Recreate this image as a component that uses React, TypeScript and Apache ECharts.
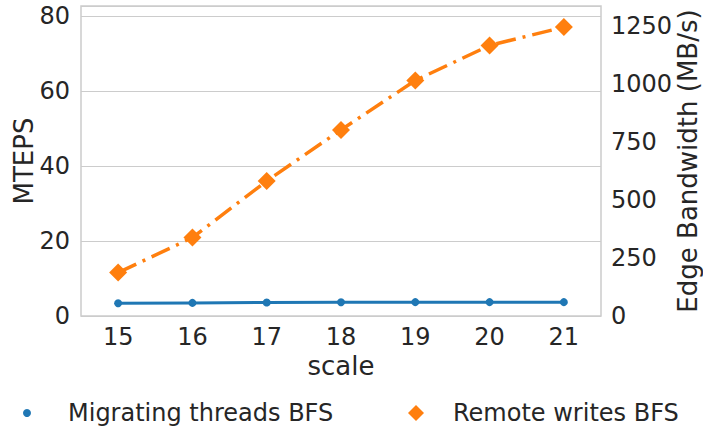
import React, { useEffect, useRef } from "react";
import * as echarts from "echarts";

const scales = ["15", "16", "17", "18", "19", "20", "21"];
const migratingMteps = [3.4, 3.5, 3.6, 3.65, 3.7, 3.7, 3.7];
const remoteBandwidth = [187, 338, 582, 802, 1015, 1166, 1245];
const FONT = "DejaVu Sans";
const TXT = "#262626";

export default function App() {
  const ref = useRef<HTMLDivElement>(null);
  useEffect(() => {
    const chart = echarts.init(ref.current!, null, { renderer: "svg" });
    chart.setOption({
      animation: false,
      textStyle: { fontFamily: FONT, color: TXT },
      grid: {
        left: 81,
        right: 102,
        top: 6,
        bottom: 111,
        show: true,
        borderColor: "#cccccc",
        borderWidth: 1.5,
        containLabel: false,
        outerBoundsMode: "none",
      },
      legend: [
        {
          data: ["Migrating threads BFS"],
          left: 18,
          top: 396,
          itemWidth: 8,
          itemHeight: 8,
          icon: "circle",
          textStyle: { fontFamily: FONT, fontSize: 24, color: TXT, padding: [0, 0, 0, 32] },
        },
        {
          data: ["Remote writes BFS"],
          left: 403,
          top: 396,
          itemWidth: 16,
          itemHeight: 16,
          icon: "diamond",
          textStyle: { fontFamily: FONT, fontSize: 24, color: TXT, padding: [0, 0, 0, 24] },
        },
      ],
      xAxis: {
        type: "category",
        data: scales,
        boundaryGap: true,
        name: "scale",
        nameLocation: "middle",
        nameGap: 37,
        nameMoveOverlap: false,
        nameTextStyle: { fontFamily: FONT, fontSize: 26, color: TXT },
        axisLine: { show: false },
        axisTick: { show: false },
        axisLabel: { fontFamily: FONT, fontSize: 24, color: TXT, margin: 9 },
        splitLine: { show: false },
      },
      yAxis: [
        {
          type: "value",
          min: 0,
          max: 82.7,
          interval: 20,
          name: "MTEPS",
          nameLocation: "middle",
          nameGap: 44,
          nameMoveOverlap: false,
          nameTextStyle: { fontFamily: FONT, fontSize: 26, color: TXT },
          axisLine: { show: false },
          axisTick: { show: false },
          axisLabel: {
            fontFamily: FONT,
            fontSize: 24,
            color: TXT,
            margin: 11,
            showMaxLabel: false,
            formatter: (v: number) => String(v),
          },
          splitLine: { show: true, lineStyle: { color: "#cccccc", width: 1.2 } },
        },
        {
          type: "value",
          min: 0,
          max: 1336,
          interval: 250,
          name: "Edge Bandwidth (MB/s)",
          nameLocation: "middle",
          nameGap: 74,
          nameRotate: 90,
          nameMoveOverlap: false,
          nameTextStyle: { fontFamily: FONT, fontSize: 26, color: TXT },
          axisLine: { show: false },
          axisTick: { show: false },
          axisLabel: {
            fontFamily: FONT,
            fontSize: 24,
            color: TXT,
            margin: 10,
            showMaxLabel: false,
            formatter: (v: number) => String(v),
          },
          splitLine: { show: false },
        },
      ],
      series: [
        {
          name: "Migrating threads BFS",
          type: "line",
          yAxisIndex: 0,
          data: migratingMteps,
          symbol: "circle",
          symbolSize: 8,
          itemStyle: { color: "#1f77b4" },
          lineStyle: { color: "#1f77b4", width: 3 },
          z: 3,
        },
        {
          name: "Remote writes BFS",
          type: "line",
          yAxisIndex: 1,
          data: remoteBandwidth,
          symbol: "diamond",
          symbolSize: 18,
          itemStyle: { color: "#ff7f0e" },
          lineStyle: { color: "#ff7f0e", width: 3.5, type: [20, 7, 3, 7] },
          z: 4,
        },
      ],
    });
    return () => chart.dispose();
  }, []);
  return <div ref={ref} style={{ width: 703, height: 427, position: "absolute", left: 0, top: 0 }} />;
}
